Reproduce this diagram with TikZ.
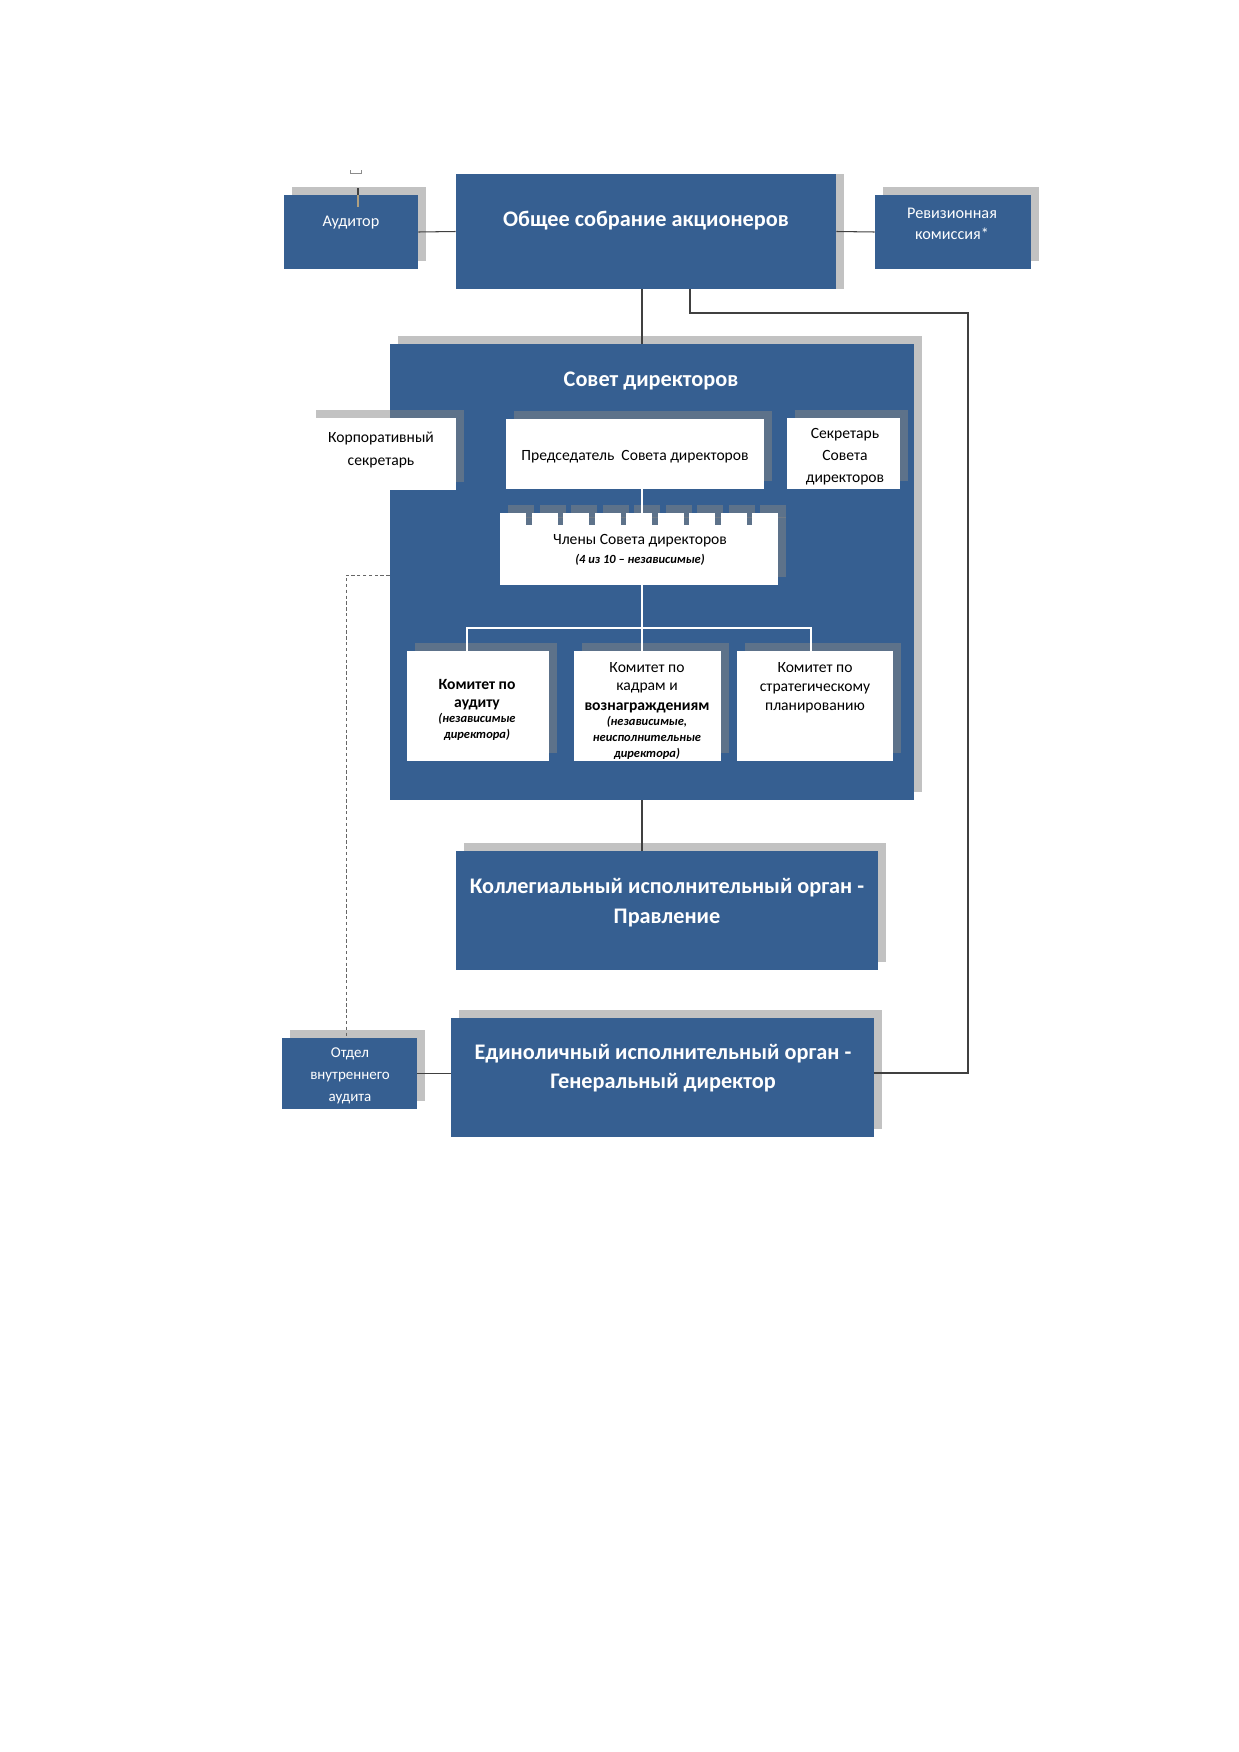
\documentclass[tikz,border=0pt]{standalone}
\usepackage{fontspec}
\setmainfont{Carlito}
\usetikzlibrary{fit,shadows}

\definecolor{boxblue}{RGB}{54,95,145}
\definecolor{linegray}{RGB}{64,64,64}
\definecolor{stubtan}{RGB}{176,160,128}
\newcommand{\cmtnote}[1]{{\fontsize{6}{7}\selectfont\bfseries\itshape #1}}

\begin{document}
\begin{tikzpicture}[x=0.4805pt,y=-0.4805pt,
	shadowbox/.style={inner sep=0pt, drop shadow={shadow xshift=4pt, shadow yshift=3.8pt, fill=black!48, opacity=.5}},
	bluebox/.style={shadowbox, fill=boxblue},
	whitebox/.style={shadowbox, fill=white},
	sidebox/.style={inner sep=0pt, fill=boxblue, drop shadow={shadow xshift=4pt, shadow yshift=0pt, fill=black!48, opacity=.5}},
	headtext/.style={text=white, font=\fontsize{10.7}{14.5}\selectfont\bfseries, align=center},
	bluetext/.style={text=white, font=\fontsize{7.8}{10.5}\selectfont, align=center},
	blacktext/.style={text=black, font=\fontsize{7.5}{10.5}\selectfont, align=center},
	cmttext/.style={text=black, font=\fontsize{7.5}{9}\selectfont, align=center},
	conn/.style={draw=linegray, line width=0.5pt},
	inline/.style={draw=white, line width=0.5pt},
	dashline/.style={draw=black!60, line width=0.4pt, dash pattern=on 1.6pt off 1.2pt}]
		\useasboundingbox (0,0) rectangle (1239,1752);
		% coordinates
		\coordinate (axis) at (642,0);
		\coordinate (stub) at (358,188);
		% top row
		\node[bluebox, fit={(284,195) (418,269)}] (auditor) {};
		\node[sidebox, fit={(456,174) (836,289)}] (gsm) {};
		\node[bluebox, fit={(875,195) (1031,269)}] (revcom) {};
		\node[bluetext] (auditor-t) at (351,223) {Аудитор};
		\node[headtext] (gsm-t) at (646,221) {Общее собрание акционеров};
		\node[bluetext, font=\fontsize{7.8}{10}\selectfont] (revcom-t) at (952,224) {Ревизионная\\комиссия*};
		% board of directors
		\node[bluebox, fit={(390,344) (914,800)}] (council) {};
		\node[headtext] (council-t) at (651,381) {Совет директоров};
		\node[whitebox, fit={(308,418) (456,490)}] (corpsec) {};
		\node[whitebox, fit={(506,419) (764,489)}] (chair) {};
		\node[whitebox, fit={(787,418) (900,489)}] (secretary) {};
		\node[blacktext, font=\fontsize{7.5}{11.5}\selectfont] (corpsec-t) at (381,450) {Корпоративный\\секретарь};
		\node[blacktext] (chair-t) at (635,457) {Председатель\ \ Совета директоров};
		\node[blacktext] (secretary-t) at (845,457) {Секретарь\\Совета\\директоров};
		% members
		\node[whitebox, fit={(500,525) (778,585)}] (members) {};
		\foreach \i in {0,...,8}
		\node[whitebox, fit={(500+31.5*\i,513) (526+31.5*\i,526)}] (tab\i) {};
		\node[cmttext] (members-t) at (640,550) {Члены Совета директоров\\\cmtnote{(4 из 10 – независимые)}};
		% committees
		\node[whitebox, fit={(407,651) (549,761)}] (audcom) {};
		\node[whitebox, fit={(574,651) (721,761)}] (hrcom) {};
		\node[whitebox, fit={(737,651) (893,761)}] (stratcom) {};
		\node[cmttext] (audcom-t) at (477,710) {\textbf{Комитет по}\\[-0.5pt]\textbf{аудиту}\\[-1.5pt]\cmtnote{(независимые}\\[-1.5pt]\cmtnote{директора)}};
		\node[cmttext] (hrcom-t) at (647,711) {Комитет по\\[-0.5pt]кадрам и\\[0.5pt]\textbf{вознаграждениям}\\[-1.5pt]\cmtnote{(независимые,}\\[-1.5pt]\cmtnote{неисполнительные}\\[-1.5pt]\cmtnote{директора)}};
		\node[cmttext, font=\fontsize{7.5}{9.2}\selectfont] (stratcom-t) at (815,688) {Комитет по\\стратегическому\\планированию};
		% executive bodies
		\node[bluebox, fit={(456,851) (878,970)}] (board) {};
		\node[headtext] (board-t) at (667,903) {Коллегиальный исполнительный орган -\\Правление};
		\node[bluebox, fit={(451,1018) (874,1137)}] (ceo) {};
		\node[headtext, font=\fontsize{10.7}{14}\selectfont\bfseries] (ceo-t) at (663,1068) {Единоличный исполнительный орган -\\Генеральный директор};
		\node[bluebox, fit={(282,1038) (417,1109)}] (intaudit) {};
		\node[bluetext, font=\fontsize{7.2}{10.5}\selectfont] (intaudit-t) at (350,1076) {Отдел\\внутреннего\\аудита};
		% connectors
		\draw[conn] (auditor.east) -- (gsm.west);
		\draw[conn] (gsm.east) -- (revcom.west);
		\draw[conn] (gsm.south -| axis) -- (council.north -| axis);
		\draw[conn, line width=0.7pt] (gsm.south -| 690,0) |- (968,313) |- (ceo.east |- 0,1073);
		\draw[conn] (council.south -| axis) -- (board.north -| axis);
		\draw[conn] (intaudit.east) -- (intaudit.east -| ceo.west);
		\draw[dashline] (council.west |- 0,575) -| (intaudit.north -| 346,0);
		\draw[conn] (stub) -- (stub |- auditor.north);
		\draw[draw=stubtan, line width=0.7pt] (stub |- auditor.north) -- ++(0,12);
		\draw[draw=black!45, line width=0.4pt] (350,170) -- (350,173) -- (361,173) -- (361,170);
		% lines inside the board
		\draw[inline] (chair.south -| axis) -- (members.north -| axis);
		\draw[inline] (members.south -| axis) -- (axis |- 0,628);
		\draw[inline] (audcom.north -| 467,0) -- (467,628) -| (stratcom.north -| 811,0);
		\draw[inline] (hrcom.north -| axis) -- (axis |- 0,628);
	\end{tikzpicture}
\end{document}
